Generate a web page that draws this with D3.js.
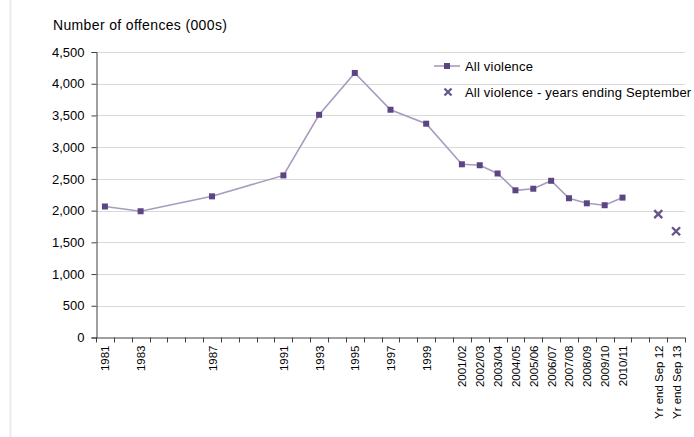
<!DOCTYPE html>
<html>
<head>
<meta charset="utf-8">
<script src="https://cdn.jsdelivr.net/npm/d3@7"></script>
<style>
  body { margin: 0; background: #fff; }
  text { font-family: "Liberation Sans", Arial, sans-serif; fill: #000; }
</style>
</head>
<body>
<div id="chart"></div>
<script>
// x slots, one per year (only some are labelled)
const categories = ["1981", "1982", "1983", "1984", "1985", "1986", "1987", "1988", "1989", "1990",
  "1991", "1992", "1993", "1994", "1995", "1996", "1997", "1998", "1999", "2000",
  "2001/02", "2002/03", "2003/04", "2004/05", "2005/06", "2006/07", "2007/08", "2008/09", "2009/10", "2010/11",
  "2011/12", "Yr end Sep 12", "Yr end Sep 13"]
const tickLabels = ["1981", "", "1983", "", "", "", "1987", "", "", "",
  "1991", "", "1993", "", "1995", "", "1997", "", "1999", "",
  "2001/02", "2002/03", "2003/04", "2004/05", "2005/06", "2006/07", "2007/08", "2008/09", "2009/10", "2010/11",
  "", "Yr end Sep 12", "Yr end Sep 13"]

// All violence (000s)
const violenceCats = ["1981", "1983", "1987", "1991", "1993", "1995", "1997", "1999",
  "2001/02", "2002/03", "2003/04", "2004/05", "2005/06", "2006/07", "2007/08", "2008/09", "2009/10", "2010/11"]
const violenceValues = [2065, 1990, 2225, 2555, 3510, 4170, 3590, 3370,
  2730, 2715, 2585, 2320, 2345, 2470, 2195, 2115, 2085, 2205]

// All violence - years ending September
const septCats = ["Yr end Sep 12", "Yr end Sep 13"]
const septValues = [1945, 1675]

const yTicks = [0, 500, 1000, 1500, 2000, 2500, 3000, 3500, 4000, 4500]

const width = 694, height = 437
const margin = {top: 52, right: 9, bottom: 99.5, left: 96}
const innerW = width - margin.left - margin.right,
  innerH = height - margin.top - margin.bottom

const lineColor = "#a89bbf", markColor = "#5b4683"

const svg = d3.select("#chart").append("svg")
  .attr("width", width)
  .attr("height", height)

// thin frame line at the left
svg.append("line")
  .attr("x1", 10.5).attr("x2", 10.5).attr("y1", 0).attr("y2", height)
  .attr("stroke", "#ebebeb").attr("stroke-width", 2)

svg.append("text")
  .attr("x", 53).attr("y", 30)
  .style("font-size", "14px")
  .style("letter-spacing", "0.35px")
  .text("Number of offences (000s)")

const g = svg.append("g")
  .attr("transform", `translate(${margin.left},${margin.top})`)

const x = d3.scaleBand().domain(categories).range([0, innerW])
const y = d3.scaleLinear().domain([0, 4500]).range([innerH, 0])

// gridlines
g.append("g")
  .selectAll("line")
  .data(yTicks.slice(1))
  .join("line")
  .attr("x1", 0).attr("x2", innerW)
  .attr("y1", d => Math.round(y(d)) + 0.5).attr("y2", d => Math.round(y(d)) + 0.5)
  .attr("stroke", "#d9d9d9")

// y axis
const yAxis = g.append("g")
  .attr("transform", "translate(0.5,0)")
  .call(d3.axisLeft(y).tickValues(yTicks).tickFormat(d3.format(",")).tickSize(5).tickPadding(7))
yAxis.select(".domain").attr("stroke", "#404040")
yAxis.selectAll(".tick line").attr("stroke", "#404040")
yAxis.selectAll("text").style("font-size", "13px").attr("fill", "#000")

// x axis: ticks between categories
const xAxis = g.append("g").attr("transform", `translate(0,${innerH})`)
xAxis.append("line")
  .attr("x1", 0).attr("x2", innerW).attr("y1", 0.5).attr("y2", 0.5)
  .attr("stroke", "#404040")
xAxis.selectAll(".tk")
  .data(categories.concat(["end"]))
  .join("line")
  .attr("class", "tk")
  .attr("x1", (d, i) => Math.round(i * x.step()) + 0.5)
  .attr("x2", (d, i) => Math.round(i * x.step()) + 0.5)
  .attr("y1", 0).attr("y2", 5)
  .attr("stroke", "#404040")
xAxis.selectAll(".lbl")
  .data(categories)
  .join("text")
  .attr("class", "lbl")
  .attr("transform", d => `translate(${x(d) + x.bandwidth() / 2 + 4.5},8) rotate(-90)`)
  .attr("text-anchor", "end")
  .style("font-size", "11.5px")
  .text((d, i) => tickLabels[i])

// all violence line
const cx = c => x(c) + x.bandwidth() / 2
const violence = violenceCats.map((c, i) => ({cat: c, value: violenceValues[i]}))
g.append("path")
  .datum(violence)
  .attr("fill", "none")
  .attr("stroke", lineColor)
  .attr("stroke-width", 1.6)
  .attr("d", d3.line().x(d => cx(d.cat)).y(d => y(d.value)))
g.selectAll(".pt")
  .data(violence)
  .join("rect")
  .attr("class", "pt")
  .attr("x", d => cx(d.cat) - 3)
  .attr("y", d => y(d.value) - 3)
  .attr("width", 6).attr("height", 6)
  .attr("fill", markColor)

// years ending September crosses
const sept = septCats.map((c, i) => ({cat: c, value: septValues[i]}))
const cross = (px, py, r) => `M${px - r},${py - r}L${px + r},${py + r}M${px - r},${py + r}L${px + r},${py - r}`
g.selectAll(".cr")
  .data(sept)
  .join("path")
  .attr("class", "cr")
  .attr("d", d => cross(cx(d.cat), y(d.value), 4))
  .attr("stroke", "#65558c")
  .attr("stroke-width", 2.4)

// legend
const lg = svg.append("g")
lg.append("line")
  .attr("x1", 434).attr("x2", 460).attr("y1", 66).attr("y2", 66)
  .attr("stroke", lineColor).attr("stroke-width", 1.6)
lg.append("rect")
  .attr("x", 444).attr("y", 63).attr("width", 6).attr("height", 6)
  .attr("fill", markColor)
lg.append("text")
  .attr("x", 465).attr("y", 70.5)
  .style("font-size", "13px")
  .style("letter-spacing", "0.2px")
  .text("All violence")
lg.append("path")
  .attr("d", cross(448, 92, 3.5))
  .attr("stroke", "#65558c").attr("stroke-width", 2.2)
lg.append("text")
  .attr("x", 465).attr("y", 96.5)
  .style("font-size", "13px")
  .style("letter-spacing", "0.2px")
  .text("All violence - years ending September")
</script>
</body>
</html>
